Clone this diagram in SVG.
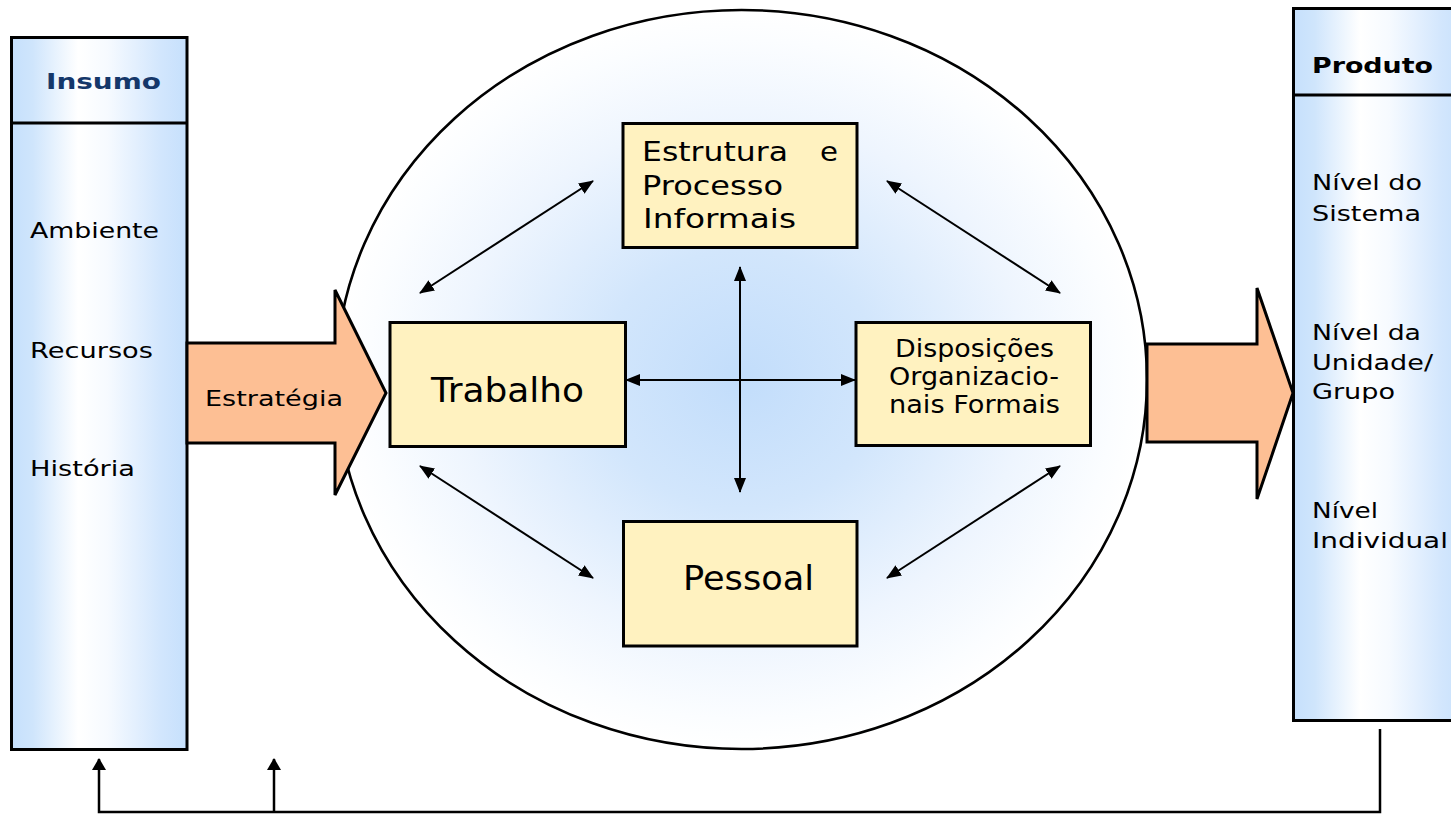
<svg xmlns="http://www.w3.org/2000/svg" width="1451" height="814" viewBox="0 0 1451 814">
<defs>
<linearGradient id="colGrad" x1="0" y1="0" x2="1" y2="0">
<stop offset="0" stop-color="#c6e0fc"/>
<stop offset="0.12" stop-color="#cfe5fc"/>
<stop offset="0.38" stop-color="#ffffff"/>
<stop offset="0.55" stop-color="#f6faff"/>
<stop offset="0.85" stop-color="#d2e6fd"/>
<stop offset="1" stop-color="#c6e0fc"/>
</linearGradient>
<radialGradient id="circGrad" cx="0.5" cy="0.5" r="0.5">
<stop offset="0" stop-color="#c2ddfb"/>
<stop offset="0.35" stop-color="#d2e6fc"/>
<stop offset="0.7" stop-color="#eef5fe"/>
<stop offset="0.92" stop-color="#fbfdff"/>
<stop offset="1" stop-color="#ffffff"/>
</radialGradient>
<marker id="ah" viewBox="0 0 15 12" refX="14" refY="6" markerWidth="15" markerHeight="12" markerUnits="userSpaceOnUse" orient="auto-start-reverse">
<path d="M0,0 L15,6 L0,12 Z" fill="#000"/>
</marker>
<marker id="fh" viewBox="0 0 12 14" refX="11" refY="7" markerWidth="12" markerHeight="14" markerUnits="userSpaceOnUse" orient="auto">
<path d="M0,0 L12,7 L0,14 Z" fill="#000"/>
</marker>
<style>
.col{fill:url(#colGrad);stroke:#000;stroke-width:3}
.box{fill:#fff2c0;stroke:#000;stroke-width:3}
.big{fill:#fdbf94;stroke:#000;stroke-width:3;stroke-linejoin:miter}
.t{font-family:"DejaVu Sans","Verdana",sans-serif;fill:#000}
.s{font-size:22px}
.d{font-size:24px}
.m{font-size:27px}
.l{font-size:33px}
.b{font-weight:bold}
.link{stroke:#000;stroke-width:2;fill:none}
.fb{stroke:#000;stroke-width:2.5;fill:none}
</style>
</defs>
<rect width="1451" height="814" fill="#ffffff"/>

<g id="ambiente-circle">
<ellipse cx="741.5" cy="379.5" rx="405.5" ry="369.5" fill="url(#circGrad)" stroke="#000" stroke-width="2.6"/>
</g>

<g id="insumo">
<rect class="col" x="11.5" y="37.5" width="175.5" height="712"/>
<line x1="11.5" y1="123" x2="187" y2="123" stroke="#000" stroke-width="3"/>
<text class="t s b" x="46" y="89" style="fill:#15376a" textLength="115" lengthAdjust="spacingAndGlyphs">Insumo</text>
<text class="t s" x="30" y="238" textLength="129" lengthAdjust="spacingAndGlyphs">Ambiente</text>
<text class="t s" x="30" y="358" textLength="123" lengthAdjust="spacingAndGlyphs">Recursos</text>
<text class="t s" x="30" y="476" textLength="105" lengthAdjust="spacingAndGlyphs">História</text>
</g>

<g id="produto">
<rect class="col" x="1293.5" y="8.5" width="175" height="712"/>
<line x1="1293.5" y1="95" x2="1460" y2="95" stroke="#000" stroke-width="3"/>
<text class="t s b" x="1312" y="73" textLength="121" lengthAdjust="spacingAndGlyphs">Produto</text>
<text class="t s" x="1312" y="190" textLength="110" lengthAdjust="spacingAndGlyphs">Nível do</text>
<text class="t s" x="1312" y="221" textLength="109" lengthAdjust="spacingAndGlyphs">Sistema</text>
<text class="t s" x="1312" y="340" textLength="109" lengthAdjust="spacingAndGlyphs">Nível da</text>
<text class="t s" x="1312" y="370" textLength="121" lengthAdjust="spacingAndGlyphs">Unidade/</text>
<text class="t s" x="1312" y="399" textLength="83" lengthAdjust="spacingAndGlyphs">Grupo</text>
<text class="t s" x="1312" y="518" textLength="66" lengthAdjust="spacingAndGlyphs">Nível</text>
<text class="t s" x="1312" y="548" textLength="136" lengthAdjust="spacingAndGlyphs">Individual</text>
</g>

<g id="estrategia">
<path class="big" d="M187,343 L335,343 L335,290 L386,393 L335,495 L335,443 L187,443 Z"/>
<text class="t s" x="205" y="406" textLength="138" lengthAdjust="spacingAndGlyphs">Estratégia</text>
</g>

<g id="saida">
<path class="big" d="M1147,344 L1257,344 L1257,288 L1293,393 L1257,499 L1257,442 L1147,442 Z"/>
</g>

<g id="estrutura">
<rect class="box" x="623" y="123.5" width="234" height="124"/>
<text class="t m" x="642" y="161" textLength="146" lengthAdjust="spacingAndGlyphs">Estrutura</text>
<text class="t m" x="820" y="161" textLength="18" lengthAdjust="spacingAndGlyphs">e</text>
<text class="t m" x="642" y="195" textLength="141" lengthAdjust="spacingAndGlyphs">Processo</text>
<text class="t m" x="643" y="228" textLength="153" lengthAdjust="spacingAndGlyphs">Informais</text>
</g>

<g id="trabalho">
<rect class="box" x="390" y="322.5" width="235.5" height="124"/>
<text class="t l" x="431" y="402" textLength="153" lengthAdjust="spacingAndGlyphs">Trabalho</text>
</g>

<g id="disposicoes">
<rect class="box" x="856" y="322.5" width="234.5" height="123"/>
<text class="t d" x="895" y="357" textLength="159" lengthAdjust="spacingAndGlyphs">Disposições</text>
<text class="t d" x="889" y="385" textLength="170" lengthAdjust="spacingAndGlyphs">Organizacio-</text>
<text class="t d" x="889" y="413" textLength="171" lengthAdjust="spacingAndGlyphs">nais Formais</text>
</g>

<g id="pessoal">
<rect class="box" x="623.5" y="521.5" width="233.5" height="124.5"/>
<text class="t l" x="683" y="590" textLength="131" lengthAdjust="spacingAndGlyphs">Pessoal</text>
</g>

<g id="connectors">
<line class="link" x1="740" y1="267" x2="740" y2="492" marker-start="url(#ah)" marker-end="url(#ah)" stroke-width="2.5"/>
<line class="link" x1="626" y1="380" x2="855" y2="380" marker-start="url(#ah)" marker-end="url(#ah)" stroke-width="2.5"/>
<line class="link" x1="420" y1="293" x2="593" y2="181" marker-start="url(#ah)" marker-end="url(#ah)"/>
<line class="link" x1="887" y1="181" x2="1060" y2="293" marker-start="url(#ah)" marker-end="url(#ah)"/>
<line class="link" x1="420" y1="466" x2="593" y2="578" marker-start="url(#ah)" marker-end="url(#ah)"/>
<line class="link" x1="887" y1="578" x2="1060" y2="466" marker-start="url(#ah)" marker-end="url(#ah)"/>
<polyline class="fb" points="1380,729 1380,812 99,812 99,759" marker-end="url(#fh)"/>
<line class="fb" x1="274" y1="812" x2="274" y2="759" marker-end="url(#fh)"/>
</g>
</svg>
